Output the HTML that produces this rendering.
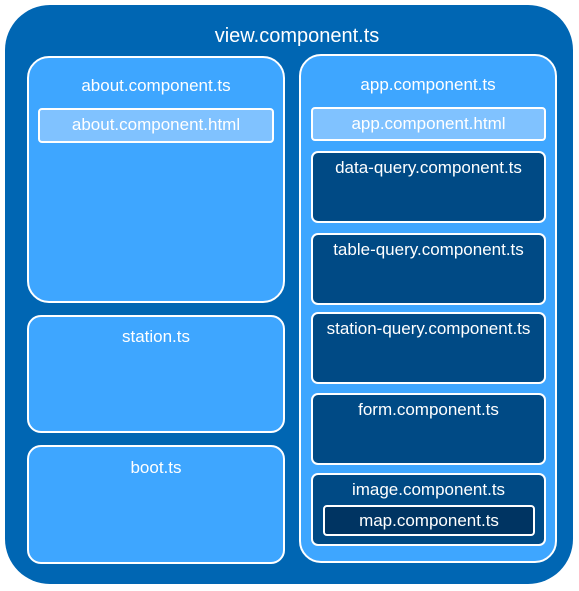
<!DOCTYPE html>
<html><head><meta charset="utf-8"><style>
body{margin:0;width:579px;height:591px;background:#fff;position:relative;font-family:"Liberation Sans",Arial,sans-serif;overflow:hidden}
div{position:absolute;box-sizing:border-box;color:#fff;text-align:center}
.L{background:#3ea6ff;border:2px solid #fff;border-radius:22px;font-size:17px}
.H{background:#80c2ff;border:2px solid #fff;border-radius:4px;font-size:17px;line-height:30px}
.D{background:#004a85;border:2px solid #fff;border-radius:7px;font-size:17px;padding-top:5px}
</style></head><body>
<div style="left:5px;top:5px;width:568px;height:579px;background:#0066b3;border-radius:45px;font-size:20px;padding-top:20px;padding-left:16px">view.component.ts</div>
<div class="L" style="left:27px;top:56px;width:258px;height:247px;padding-top:18px">about.component.ts</div>
<div class="H" style="left:38px;top:108px;width:236px;height:35px">about.component.html</div>
<div class="L" style="left:27px;top:315px;width:258px;height:118px;border-radius:14px;padding-top:10px">station.ts</div>
<div class="L" style="left:27px;top:445px;width:258px;height:119px;border-radius:14px;padding-top:11px">boot.ts</div>
<div class="L" style="left:299px;top:54px;width:258px;height:509px;padding-top:19px">app.component.ts</div>
<div class="H" style="left:311px;top:107px;width:235px;height:34px">app.component.html</div>
<div class="D" style="left:311px;top:151px;width:235px;height:72px">data-query.component.ts</div>
<div class="D" style="left:311px;top:233px;width:235px;height:72px">table-query.component.ts</div>
<div class="D" style="left:311px;top:312px;width:235px;height:72px">station-query.component.ts</div>
<div class="D" style="left:311px;top:393px;width:235px;height:72px">form.component.ts</div>
<div class="D" style="left:311px;top:473px;width:235px;height:73px">image.component.ts</div>
<div style="left:323px;top:505px;width:212px;height:31px;background:#003462;border:2px solid #fff;border-radius:4px;font-size:17px;line-height:27px">map.component.ts</div>
</body></html>
